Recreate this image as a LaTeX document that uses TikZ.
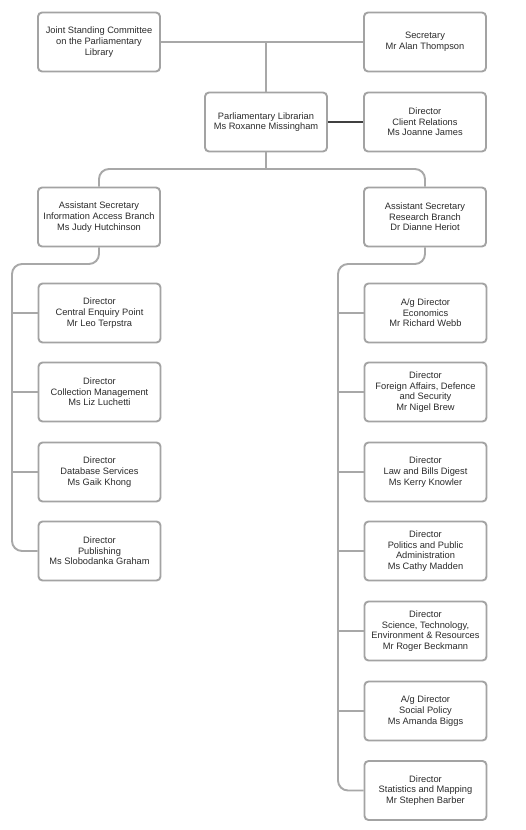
\documentclass[tikz,border=0pt]{standalone}
\usepackage{fontspec}
\setmainfont{Liberation Sans}
\definecolor{boxgray}{HTML}{A3A3A3}
\definecolor{linegray}{HTML}{A8A8A8}
\definecolor{txt}{HTML}{2B2B2B}
\begin{document}
\begin{tikzpicture}[x=1pt,y=-1pt,
  orgbox/.style={draw=boxgray, line width=1.9pt, rounded corners=4pt, fill=white,
    minimum width=122pt, minimum height=59pt, align=center, inner sep=1pt,
    text=txt, font=\fontsize{9.3}{10.6}\selectfont},
  conn/.style={draw=linegray, line width=1.9pt},
  curvy/.style={conn, rounded corners=10pt},
  dark/.style={draw=black!75, line width=1.2pt}]
\useasboundingbox (0,0) rectangle (525,830);
\fill[white] (0,0) rectangle (525,830);

% connectors (drawn first, boxes on top)
\coordinate (top) at (266,42);
\coordinate (split) at (266,169);
\coordinate (lc) at (12,264);
\coordinate (rc) at (338,264);

% nodes
\node[orgbox] (jsc) at (99,42) {Joint Standing Committee\\on the Parliamentary\\Library};
\node[orgbox] (sec) at (425,42) {Secretary\\Mr Alan Thompson};
\node[orgbox] (lib) at (266,122) {Parliamentary Librarian\\Ms Roxanne Missingham};
\node[orgbox] (dcr) at (425,122) {Director\\Client Relations\\Ms Joanne James};
\node[orgbox] (ias) at (99,217) {Assistant Secretary\\Information Access Branch\\Ms Judy Hutchinson};
\node[orgbox] (rb) at (425,217) {Assistant Secretary\\Research Branch\\Dr Dianne Heriot};

\node[orgbox] (cep) at (99.5,313) {Director\\Central Enquiry Point\\Mr Leo Terpstra};
\node[orgbox] (cm)  at (99.5,392) {Director\\Collection Management\\Ms Liz Luchetti};
\node[orgbox] (ds)  at (99.5,472) {Director\\Database Services\\Ms Gaik Khong};
\node[orgbox] (pub) at (99.5,551) {Director\\Publishing\\Ms Slobodanka Graham};

\node[orgbox] (eco) at (425.5,313) {A/g Director\\Economics\\Mr Richard Webb};
\node[orgbox] (fad) at (425.5,392) {Director\\Foreign Affairs, Defence\\and Security\\Mr Nigel Brew};
\node[orgbox] (lbd) at (425.5,472) {Director\\Law and Bills Digest\\Ms Kerry Knowler};
\node[orgbox] (ppa) at (425.5,551) {Director\\Politics and Public\\Administration\\Ms Cathy Madden};
\node[orgbox] (ste) at (425.5,631) {Director\\Science, Technology,\\Environment \& Resources\\Mr Roger Beckmann};
\node[orgbox] (sp)  at (425.5,711) {A/g Director\\Social Policy\\Ms Amanda Biggs};
\node[orgbox] (sm)  at (425.5,790.5) {Director\\Statistics and Mapping\\Mr Stephen Barber};

\draw[conn] (jsc.east) -- (sec.west);
\draw[conn] (top) -- (lib.north);
\draw[dark] (lib.east) -- (dcr.west);
\draw[conn] (lib.south) -- (split);
\draw[curvy] (ias.north) |- (split) -| (rb.north);

\draw[curvy] (ias.south) |- (lc) |- (pub.west);
\draw[conn] (lc |- cep.west) -- (cep.west);
\draw[conn] (lc |- cm.west) -- (cm.west);
\draw[conn] (lc |- ds.west) -- (ds.west);

\draw[curvy] (rb.south) |- (rc) |- (sm.west);
\draw[conn] (rc |- eco.west) -- (eco.west);
\draw[conn] (rc |- fad.west) -- (fad.west);
\draw[conn] (rc |- lbd.west) -- (lbd.west);
\draw[conn] (rc |- ppa.west) -- (ppa.west);
\draw[conn] (rc |- ste.west) -- (ste.west);
\draw[conn] (rc |- sp.west) -- (sp.west);
\end{tikzpicture}
\end{document}
